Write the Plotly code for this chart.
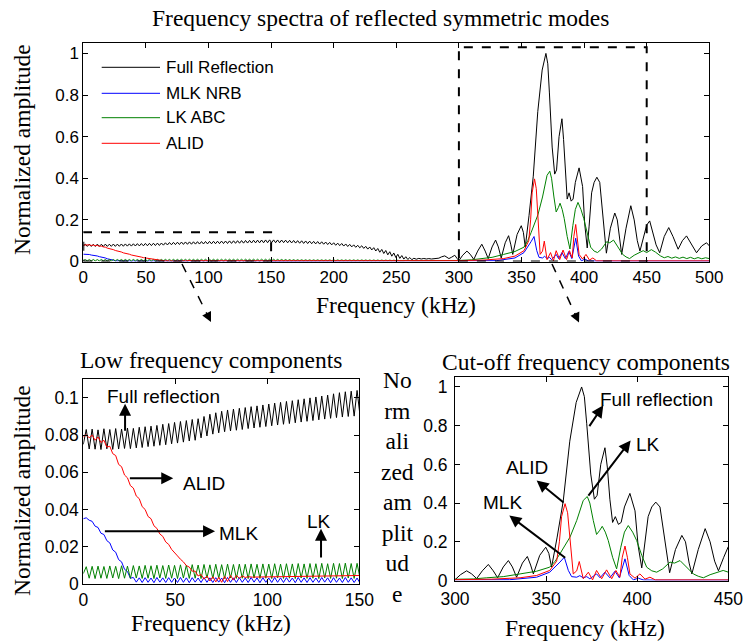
import numpy as np
import plotly.graph_objects as go

W, H = 744, 642
FREQ_BIN = 1.6  # kHz spacing of the low-band spectrum samples

# ---------------- Full reflection ----------------
full_low = [
    0.0750, 0.0830, 0.0725, 0.0832, 0.0724, 0.0828, 0.0722, 0.0834, 0.0726, 0.0830,
    0.0723, 0.0835, 0.0725, 0.0832, 0.0728, 0.0838, 0.0727, 0.0836, 0.0731, 0.0842,
    0.0733, 0.0845, 0.0738, 0.0848, 0.0740, 0.0852, 0.0745, 0.0858, 0.0748, 0.0862,
    0.0753, 0.0868, 0.0757, 0.0873, 0.0762, 0.0878, 0.0768, 0.0884, 0.0772, 0.0888,
    0.0785, 0.0900, 0.0795, 0.0912, 0.0805, 0.0920, 0.0812, 0.0928, 0.0818, 0.0935,
    0.0822, 0.0940, 0.0826, 0.0944, 0.0830, 0.0948, 0.0835, 0.0953, 0.0838, 0.0957,
    0.0842, 0.0962, 0.0846, 0.0967, 0.0850, 0.0972, 0.0854, 0.0976, 0.0858, 0.0981,
    0.0862, 0.0985, 0.0866, 0.0990, 0.0870, 0.0995, 0.0874, 0.1000, 0.0878, 0.1005,
    0.0882, 0.1010, 0.0886, 0.1015, 0.0890, 0.1022, 0.0894, 0.1028, 0.0897, 0.1033,
    0.0900, 0.1036, 0.0902, 0.1040, 0.0903, 0.1038, 0.0902, 0.1035, 0.0900, 0.1032,
    0.0905, 0.1025, 0.0898, 0.1018, 0.0892, 0.1010, 0.0885, 0.1002, 0.0878, 0.0995,
    0.0870, 0.0987, 0.0862, 0.0978, 0.0855, 0.0968, 0.0846, 0.0958, 0.0837, 0.0947,
    0.0830, 0.0935, 0.0815, 0.0918, 0.0798, 0.0900, 0.0780, 0.0882, 0.0762, 0.0865,
    0.0742, 0.0843, 0.0722, 0.0822, 0.0702, 0.0800, 0.0682, 0.0778, 0.0660, 0.0755,
    0.0630, 0.0728, 0.0595, 0.0698, 0.0555, 0.0665, 0.0505, 0.0625, 0.0445, 0.0580,
    0.0385, 0.0530, 0.0320, 0.0470, 0.0255, 0.0410, 0.0195, 0.0345, 0.0150, 0.0285,
    0.0115, 0.0230, 0.0095, 0.0190, 0.0085,
]
full_high_f = [
    264, 266, 268, 270, 272, 274, 276, 278, 280, 282, 284, 286, 288.7, 290.5, 292,
    294, 296.7, 298.5, 300, 303, 306.4, 309, 311.9, 315, 318.3, 321, 323.4, 326.5,
    329.3, 331.5, 333.8, 337, 339.7, 341.5, 343, 346.5, 349.8, 351.5, 353, 356,
    359.4, 363, 366.5, 369.5, 371, 372.3, 374.5, 376.5, 378, 380, 382.3, 383.6,
    385, 386.5, 388, 389.7, 391.2, 393, 396, 398.8, 400.5, 402.5, 404, 406, 408,
    410.2, 412.5, 414.5, 417.8, 421, 424.5, 426.5, 428.5, 430, 433.5, 437.3, 440,
    442.5, 444.6, 447.5, 450, 452.4, 455, 457.5, 460.4, 464, 467.6, 471, 475.1,
    478.5, 481.8, 485, 489.8, 494, 497.8, 500,
]
full_high_a = [
    0.0155, 0.0110, 0.0150, 0.0120, 0.0145, 0.0120, 0.0140, 0.0120, 0.0140, 0.0130,
    0.0160, 0.0220, 0.0270, 0.0200, 0.0140, 0.0200, 0.0300, 0.0150, 0.0040, 0.0300,
    0.0500, 0.0350, 0.0100, 0.0500, 0.0830, 0.0500, 0.0140, 0.0700, 0.1030, 0.0700,
    0.0170, 0.0900, 0.1240, 0.0800, 0.0340, 0.1300, 0.1720, 0.1400, 0.0690, 0.2200,
    0.4100, 0.7200, 0.9200, 1.0000, 0.9500, 0.8100, 0.5500, 0.4200, 0.4400, 0.6000,
    0.6860, 0.5860, 0.4200, 0.3000, 0.3300, 0.2900, 0.3000, 0.3800, 0.4500, 0.3600,
    0.1800, 0.0650, 0.1700, 0.3300, 0.3800, 0.4050, 0.3800, 0.2500, 0.0400, 0.1600,
    0.2330, 0.2000, 0.0900, 0.0340, 0.1600, 0.2680, 0.2000, 0.1000, 0.0500, 0.1200,
    0.1750, 0.1950, 0.1400, 0.0800, 0.0420, 0.1200, 0.1630, 0.1200, 0.0590, 0.1000,
    0.1230, 0.0900, 0.0420, 0.0750, 0.0900, 0.0750,
]

# ---------------- MLK NRB ----------------
mlk_low = [
    0.0350, 0.0355, 0.0342, 0.0336, 0.0310, 0.0303, 0.0272, 0.0265, 0.0232, 0.0220,
    0.0182, 0.0170, 0.0130, 0.0118, 0.0078, 0.0066, 0.0030, 0.0034, 0.0009, 0.0032,
    0.0007, 0.0033, 0.0008, 0.0031, 0.0006, 0.0034, 0.0009, 0.0032, 0.0007, 0.0033,
    0.0008, 0.0031, 0.0007, 0.0034, 0.0008, 0.0032, 0.0006, 0.0033, 0.0009, 0.0031,
    0.0007, 0.0034, 0.0008, 0.0032, 0.0007, 0.0033, 0.0009, 0.0031, 0.0006, 0.0034,
    0.0008, 0.0032, 0.0007, 0.0033, 0.0008, 0.0031, 0.0007, 0.0034, 0.0009, 0.0032,
    0.0006, 0.0033, 0.0008, 0.0031, 0.0007, 0.0034, 0.0008, 0.0032, 0.0007, 0.0033,
    0.0009, 0.0031, 0.0006, 0.0034, 0.0008, 0.0032, 0.0007, 0.0033, 0.0008, 0.0031,
    0.0007, 0.0034, 0.0009, 0.0032, 0.0006, 0.0033, 0.0008, 0.0031, 0.0007, 0.0034,
    0.0008, 0.0032, 0.0007, 0.0031,
]
mlk_high_f = [
    150, 200, 260, 280, 300, 330, 344.8, 352, 357.6, 360, 362.2, 364, 366.8, 368.5,
    370.4, 372.3, 374, 377.7, 379.6, 382.3, 385, 387.8, 390.2, 393.3, 395.6, 397.9,
    400.6, 403.3, 410, 500,
]
mlk_high_a = [
    0.0010, 0.0010, 0.0010, 0.0020, 0.0020, 0.0040, 0.0170, 0.0430, 0.0950, 0.1200,
    0.0520, 0.0200, 0.0170, 0.0250, 0.0140, 0.0200, 0.0090, 0.0340, 0.0140, 0.0430,
    0.0140, 0.0480, 0.0140, 0.1120, 0.0260, 0.0030, 0.0120, 0.0030, 0.0020, 0.0020,
]

# ---------------- LK ABC ----------------
lk_low = [
    0.0055, 0.0092, 0.0030, 0.0094, 0.0028, 0.0095, 0.0030, 0.0093, 0.0029, 0.0096,
    0.0031, 0.0094, 0.0028, 0.0097, 0.0030, 0.0095, 0.0029, 0.0098, 0.0031, 0.0096,
    0.0029, 0.0099, 0.0030, 0.0097, 0.0028, 0.0100, 0.0031, 0.0098, 0.0029, 0.0101,
    0.0030, 0.0099, 0.0028, 0.0102, 0.0031, 0.0100, 0.0029, 0.0103, 0.0030, 0.0101,
    0.0028, 0.0104, 0.0031, 0.0102, 0.0029, 0.0105, 0.0030, 0.0103, 0.0028, 0.0106,
    0.0031, 0.0104, 0.0029, 0.0106, 0.0030, 0.0105, 0.0028, 0.0107, 0.0031, 0.0105,
    0.0029, 0.0107, 0.0030, 0.0106, 0.0028, 0.0108, 0.0031, 0.0106, 0.0029, 0.0108,
    0.0030, 0.0107, 0.0028, 0.0109, 0.0031, 0.0107, 0.0029, 0.0109, 0.0030, 0.0108,
    0.0028, 0.0110, 0.0031, 0.0108, 0.0029, 0.0110, 0.0030, 0.0109, 0.0028, 0.0111,
    0.0031, 0.0109, 0.0029, 0.0110, 0.0030, 0.0108, 0.0032, 0.0104, 0.0033, 0.0100,
    0.0034, 0.0096, 0.0035, 0.0092, 0.0036, 0.0089, 0.0036, 0.0086, 0.0037, 0.0084,
    0.0037, 0.0082, 0.0038, 0.0081, 0.0037, 0.0080, 0.0038, 0.0081, 0.0037, 0.0080,
    0.0038, 0.0079, 0.0037, 0.0080, 0.0038, 0.0079, 0.0037, 0.0078, 0.0038, 0.0079,
    0.0037, 0.0078, 0.0038, 0.0077, 0.0037, 0.0078, 0.0038, 0.0077, 0.0037, 0.0076,
    0.0038, 0.0075, 0.0037, 0.0074, 0.0038, 0.0073, 0.0037, 0.0072, 0.0038, 0.0070,
    0.0038, 0.0068, 0.0039, 0.0066, 0.0039, 0.0063, 0.0040, 0.0060, 0.0040, 0.0057,
    0.0041, 0.0054, 0.0041, 0.0050, 0.0042,
]
lk_high_f = [
    265, 280, 290, 300, 310, 317.4, 326.5, 335.7, 344.8, 352, 355, 357.6, 360.5,
    363.1, 366.8, 370.4, 372.6, 374, 375.9, 377.7, 379.5, 380.8, 382.5, 384.1,
    386.5, 388.7, 391, 393, 395.1, 397.5, 399.7, 402.5, 405.2, 408, 410.7, 414,
    418, 420.5, 423.5, 427, 430.8, 433.5, 436.3, 440, 443.6, 447.2, 450, 453.7,
    457, 461, 464, 467, 470, 473, 476, 479, 482, 485, 488, 491, 494, 497, 500,
]
lk_high_a = [
    0.0040, 0.0040, 0.0050, 0.0050, 0.0080, 0.0140, 0.0200, 0.0340, 0.0480, 0.0690,
    0.1000, 0.1380, 0.1800, 0.2240, 0.3100, 0.4140, 0.4340, 0.4000, 0.3100, 0.2380,
    0.2600, 0.2800, 0.2500, 0.2070, 0.1200, 0.0600, 0.1720, 0.2500, 0.2840, 0.2500,
    0.2070, 0.1300, 0.0690, 0.0500, 0.0430, 0.0600, 0.0950, 0.0900, 0.1030, 0.0700,
    0.0340, 0.0220, 0.0140, 0.0300, 0.0430, 0.0520, 0.0430, 0.0570, 0.0450, 0.0270,
    0.0180, 0.0240, 0.0160, 0.0220, 0.0150, 0.0210, 0.0140, 0.0200, 0.0130, 0.0190,
    0.0130, 0.0180, 0.0140,
]

# ---------------- ALID ----------------
alid_low = [
    0.0790, 0.0802, 0.0785, 0.0800, 0.0772, 0.0790, 0.0760, 0.0772, 0.0735, 0.0740,
    0.0700, 0.0690, 0.0642, 0.0630, 0.0585, 0.0570, 0.0528, 0.0515, 0.0472, 0.0458,
    0.0415, 0.0400, 0.0362, 0.0350, 0.0312, 0.0298, 0.0268, 0.0255, 0.0225, 0.0212,
    0.0185, 0.0170, 0.0150, 0.0132, 0.0118, 0.0098, 0.0090, 0.0068, 0.0068, 0.0042,
    0.0050, 0.0025, 0.0042, 0.0015, 0.0038, 0.0010, 0.0035, 0.0008, 0.0040, 0.0012,
    0.0045, 0.0020, 0.0045, 0.0030, 0.0042, 0.0034, 0.0038,
]
alid_high_f = [
    92, 150, 200, 260, 300, 320, 335.7, 344.8, 352, 355.8, 357.3, 358.5, 360.4,
    361.8, 363.1, 364.9, 366.8, 368.2, 370.4, 373.2, 375.5, 377.7, 380.5, 383.2,
    386, 388.3, 390.5, 391.8, 393.3, 394.6, 396, 398.8, 401.5, 404.3, 407, 410, 500,
]
alid_high_a = [
    0.0036, 0.0036, 0.0030, 0.0030, 0.0040, 0.0070, 0.0140, 0.0260, 0.0520, 0.1000,
    0.2000, 0.3300, 0.3970, 0.3500, 0.2200, 0.0340, 0.0500, 0.0980, 0.0090, 0.0430,
    0.0030, 0.0520, 0.0090, 0.0550, 0.0090, 0.0520, 0.0170, 0.1200, 0.1780, 0.1200,
    0.0340, 0.0120, 0.0340, 0.0070, 0.0170, 0.0030, 0.0030,
]

series = [
    ("Full Reflection", "#000000", full_low, full_high_f, full_high_a),
    ("MLK NRB", "#0000FF", mlk_low, mlk_high_f, mlk_high_a),
    ("LK ABC", "#008000", lk_low, lk_high_f, lk_high_a),
    ("ALID", "#FF0000", alid_low, alid_high_f, alid_high_a),
]

SERIF = "Liberation Serif"
SANS = "Liberation Sans"


def P(x, y):
    """pixel position -> paper coordinates"""
    return x / W, 1 - y / H


fig = go.Figure()
for name, color, low, hf, ha in series:
    f = np.concatenate([np.arange(len(low)) * FREQ_BIN, np.asarray(hf, float)])
    a = np.concatenate([np.asarray(low, float), np.asarray(ha, float)])
    for xa, ya in (("x", "y"), ("x2", "y2"), ("x3", "y3")):
        fig.add_trace(go.Scatter(x=f, y=a, mode="lines", name=name,
                                 line=dict(color=color, width=1),
                                 xaxis=xa, yaxis=ya, showlegend=False,
                                 hoverinfo="skip"))


def axis_style(size, standoff=0):
    return dict(showline=True, linecolor="black", linewidth=1, mirror="ticks",
                ticks="inside", ticklen=5, tickcolor="black", showgrid=False,
                zeroline=False, automargin=False, ticklabelstandoff=standoff,
                tickfont=dict(family=SANS, size=size, color="black"))


def dom_x(a, b):
    return [a / W, b / W]


def dom_y(top, bottom):
    return [1 - bottom / H, 1 - top / H]


fig.update_layout(
    template="none",
    width=W, height=H, margin=dict(l=0, r=0, t=0, b=0, autoexpand=False),
    paper_bgcolor="white", plot_bgcolor="white", showlegend=False,
    xaxis=dict(domain=dom_x(83.3, 709.3), range=[0, 500],
               tickvals=list(range(0, 501, 50)), anchor="y", **axis_style(17)),
    yaxis=dict(domain=dom_y(43, 261.5), range=[0, 1.05],
               tickvals=[0, 0.2, 0.4, 0.6, 0.8, 1],
               ticktext=["0", "0.2", "0.4", "0.6", "0.8", "1"], anchor="x", **axis_style(17)),
    xaxis2=dict(domain=dom_x(83.3, 359.3), range=[0, 150],
                tickvals=[0, 50, 100, 150], anchor="y2", **axis_style(17.5)),
    yaxis2=dict(domain=dom_y(379.3, 583.8), range=[0, 0.11],
                tickvals=[0, 0.02, 0.04, 0.06, 0.08, 0.1],
                ticktext=["0", "0.02", "0.04", "0.06", "0.08", "0.1"], anchor="x2", **axis_style(17.5)),
    xaxis3=dict(domain=dom_x(455, 728.3), range=[300, 450],
                tickvals=[300, 350, 400, 450], anchor="y3", **axis_style(17.5, 2)),
    yaxis3=dict(domain=dom_y(377.3, 580.5), range=[0, 1.05],
                tickvals=[0, 0.2, 0.4, 0.6, 0.8, 1],
                ticktext=["0", "0.2", "0.4", "0.6", "0.8", "1"], anchor="x3", **axis_style(17.5, 3)),
)

shapes = []
annotations = []

# zoom boxes on the overview spectrum
for x0, x1, y1 in ((0, 150, 0.14), (300, 450, 1.03)):
    shapes.append(dict(type="rect", xref="x", yref="y", x0=x0, x1=x1, y0=0, y1=y1,
                       line=dict(color="black", width=2, dash="dash")))

# dashed pointers towards the detail plots
for (sx, sy), (ex, ey) in (((182, 264), (211, 322)), ((552, 264), (579, 322.5))):
    dx, dy = ex - sx, ey - sy
    n = (dx ** 2 + dy ** 2) ** 0.5
    ux, uy = dx / n, dy / n
    a0, b0 = P(sx, sy)
    a1, b1 = P(ex - 8 * ux, ey - 8 * uy)
    shapes.append(dict(type="line", xref="paper", yref="paper", x0=a0, y0=b0, x1=a1, y1=b1,
                       line=dict(color="black", width=1.5, dash="dash")))
    tx, ty = P(ex, ey)
    annotations.append(dict(xref="paper", yref="paper", x=tx, y=ty, ax=-10 * ux, ay=-10 * uy,
                            text="", showarrow=True, arrowhead=2, arrowsize=1.3,
                            arrowwidth=1.5, arrowcolor="black", standoff=0))

# legend of the overview spectrum
legend_rows = [67.3, 93.3, 117.7, 143.3]
for (name, color, *_), yy in zip(series, legend_rows):
    a0, b0 = P(101.7, yy)
    a1, _ = P(160, yy)
    shapes.append(dict(type="line", xref="paper", yref="paper", x0=a0, x1=a1, y0=b0, y1=b0,
                       line=dict(color=color, width=1)))
    tx, ty = P(163.5, yy)
    annotations.append(dict(xref="paper", yref="paper", x=tx, y=ty, text=name,
                            showarrow=False, xanchor="left", yanchor="middle",
                            font=dict(family=SANS, size=17, color="black")))


def paper_text(x, y, text, size=23.5, family=SERIF, angle=0):
    px_, py_ = P(x, y)
    annotations.append(dict(xref="paper", yref="paper", x=px_, y=py_, text=text,
                            showarrow=False, xanchor="center", yanchor="middle",
                            textangle=angle, font=dict(family=family, size=size, color="black")))


paper_text(380, 18, "Frequency spectra of reflected symmetric modes")
paper_text(396, 305, "Frequency (kHz)")
paper_text(22, 150, "Normalized amplitude", angle=-90)
paper_text(211, 360, "Low frequency components")
paper_text(586, 362, "Cut-off frequency components")
paper_text(211, 623, "Frequency (kHz)")
paper_text(585, 628, "Frequency (kHz)")
paper_text(22, 491, "Normalized amplitude", angle=-90)
paper_text(397, 487, "No<br>rm<br>ali<br>zed<br>am<br>plit<br>ud<br>e")


def callout(xa, ya, tip, tail, label, label_pos):
    annotations.append(dict(xref=xa, yref=ya, axref=xa, ayref=ya,
                            x=tip[0], y=tip[1], ax=tail[0], ay=tail[1], text="",
                            showarrow=True, arrowhead=2, arrowsize=1.2, arrowwidth=2,
                            arrowcolor="black", standoff=0))
    annotations.append(dict(xref=xa, yref=ya, x=label_pos[0], y=label_pos[1], text=label,
                            showarrow=False, xanchor="center", yanchor="middle",
                            font=dict(family=SANS, size=19, color="black")))


# low-frequency detail
callout("x2", "y2", (22.7, 0.0968), (22.7, 0.0815), "Full reflection", (43.5, 0.1009))
callout("x2", "y2", (48.9, 0.0568), (24.5, 0.0568), "ALID", (65.6, 0.0538))
callout("x2", "y2", (71.6, 0.0283), (10.9, 0.0283), "MLK", (84.2, 0.0269))
callout("x2", "y2", (129.2, 0.0296), (129.2, 0.0134), "LK", (128.1, 0.0337))

# cut-off detail
callout("x3", "y3", (381.4, 0.905), (373.2, 0.79), "Full reflection", (410.5, 0.936))
callout("x3", "y3", (396.4, 0.724), (372.6, 0.431), "LK", (406.1, 0.703))
callout("x3", "y3", (344.8, 0.517), (360.4, 0.397), "ALID", (339.7, 0.583))
callout("x3", "y3", (329.8, 0.336), (361.3, 0.112), "MLK", (326.0, 0.405))

fig.update_layout(shapes=shapes, annotations=annotations)
fig.write_html("out.html")
